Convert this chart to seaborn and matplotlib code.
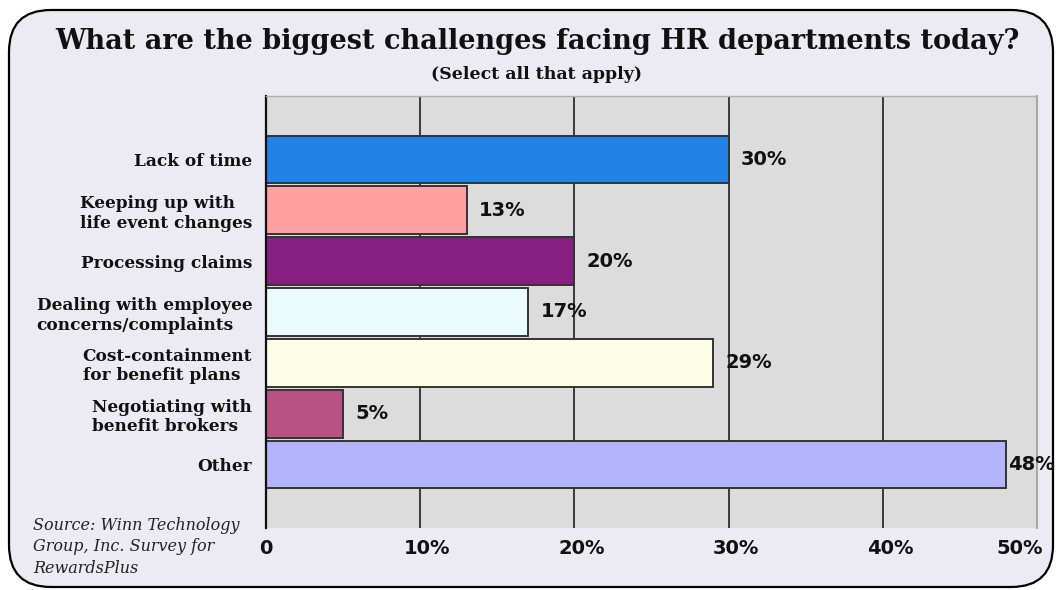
import matplotlib
matplotlib.use("Agg")
import matplotlib.pyplot as plt
from matplotlib.patches import FancyBboxPatch
from matplotlib.transforms import ScaledTranslation
import seaborn as sns
import pandas as pd

categories = [
    "Lack of time",
    "Keeping up with\nlife event changes",
    "Processing claims",
    "Dealing with employee\nconcerns/complaints",
    "Cost-containment\nfor benefit plans",
    "Negotiating with\nbenefit brokers",
    "Other",
]
values = [30, 13, 20, 17, 29, 5, 48]
colors = ["#2183E6", "#FF9F9F", "#861F80", "#E8FCFC", "#FEFEE8", "#B85282", "#B4B4FC"]
tick_values = [0, 10, 20, 30, 40, 50]
tick_labels = ["0", "10%", "20%", "30%", "40%", "50%"]

title = "What are the biggest challenges facing HR departments today?"
subtitle = "(Select all that apply)"
source = "Source: Winn Technology\nGroup, Inc. Survey for\nRewardsPlus"

df = pd.DataFrame({"challenge": categories, "share": values})

sns.set_theme(style="white")
plt.rcParams["font.family"] = ["DejaVu Sans"]

fig = plt.figure(figsize=(10.57, 5.9), dpi=100)
fig.patch.set_facecolor("white")

# rounded panel behind everything
panel = FancyBboxPatch((0.09, 0.03), 10.44, 5.77,
                       boxstyle="round,pad=0,rounding_size=0.42",
                       transform=fig.dpi_scale_trans,
                       facecolor="#ECEAF2", edgecolor="black", linewidth=1.6,
                       zorder=-10)
fig.patches.append(panel)

ax = fig.add_axes([0.2517, 0.1051, 0.7294, 0.7322], zorder=1)
ax.set_facecolor("#DCDCDC")

sns.barplot(data=df, x="share", y="challenge", hue="challenge",
            palette=colors, saturation=1, width=0.94, orient="h",
            edgecolor="#333333", linewidth=1.4, legend=False, ax=ax)

ax.set_xlim(0, 50)
ax.set_ylim(7.25, -1.25)
ax.set_xticks(tick_values)
ax.set_xticklabels(tick_labels, fontsize=14, fontweight="bold",
                   fontfamily="DejaVu Sans", color="#111111")
ax.tick_params(axis="x", length=0, pad=8)
ax.tick_params(axis="y", length=0, pad=10)

# nudge the percentage tick labels a little to the right; last one ends at the frame
xlabels = ax.get_xticklabels()
for lbl in xlabels[1:-1]:
    lbl.set_transform(lbl.get_transform() + ScaledTranslation(0.07, 0, fig.dpi_scale_trans))
xlabels[-1].set_horizontalalignment("right")
xlabels[-1].set_transform(xlabels[-1].get_transform() + ScaledTranslation(0.06, 0, fig.dpi_scale_trans))

for lbl in ax.get_yticklabels():
    lbl.set_fontfamily("DejaVu Serif")
    lbl.set_fontweight("bold")
    lbl.set_fontsize(12.2)
    lbl.set_color("#111111")
    lbl.set_multialignment("left")
ax.set_xlabel("")
ax.set_ylabel("")

ax.grid(axis="x", color="#3A3A3A", linewidth=1.4)
ax.grid(axis="y", visible=False)
ax.set_axisbelow(True)

ax.spines["left"].set_color("#111111")
ax.spines["left"].set_linewidth(1.6)
ax.spines["top"].set_color("#B0B0B0")
ax.spines["top"].set_linewidth(1.0)
ax.spines["right"].set_color("#A8A8A8")
ax.spines["right"].set_linewidth(1.4)
ax.spines["bottom"].set_visible(False)

# value labels at bar ends; the longest bar's label sits tight so it stays inside the frame
vmax = max(values)
for i, v in enumerate(values):
    gap = 1 if v == vmax else 9
    ax.annotate(f"{v}%", xy=(v, i), xytext=(gap, 0), textcoords="offset points",
                ha="left", va="center", fontsize=14, fontweight="bold",
                fontfamily="DejaVu Sans", color="#111111", annotation_clip=False)

fig.text(0.508, 0.929, title, ha="center", va="center",
         fontsize=19.5, fontweight="bold", fontfamily="DejaVu Serif",
         color="#111111")
fig.text(0.508, 0.873, subtitle, ha="center", va="center",
         fontsize=12.5, fontweight="bold", fontfamily="DejaVu Serif",
         color="#111111")
fig.text(0.031, 0.124, source, ha="left", va="top",
         fontsize=11.5, fontstyle="italic", fontfamily="DejaVu Serif",
         color="#222222", linespacing=1.35)

fig.savefig("out.png", dpi=100, facecolor=fig.get_facecolor())
